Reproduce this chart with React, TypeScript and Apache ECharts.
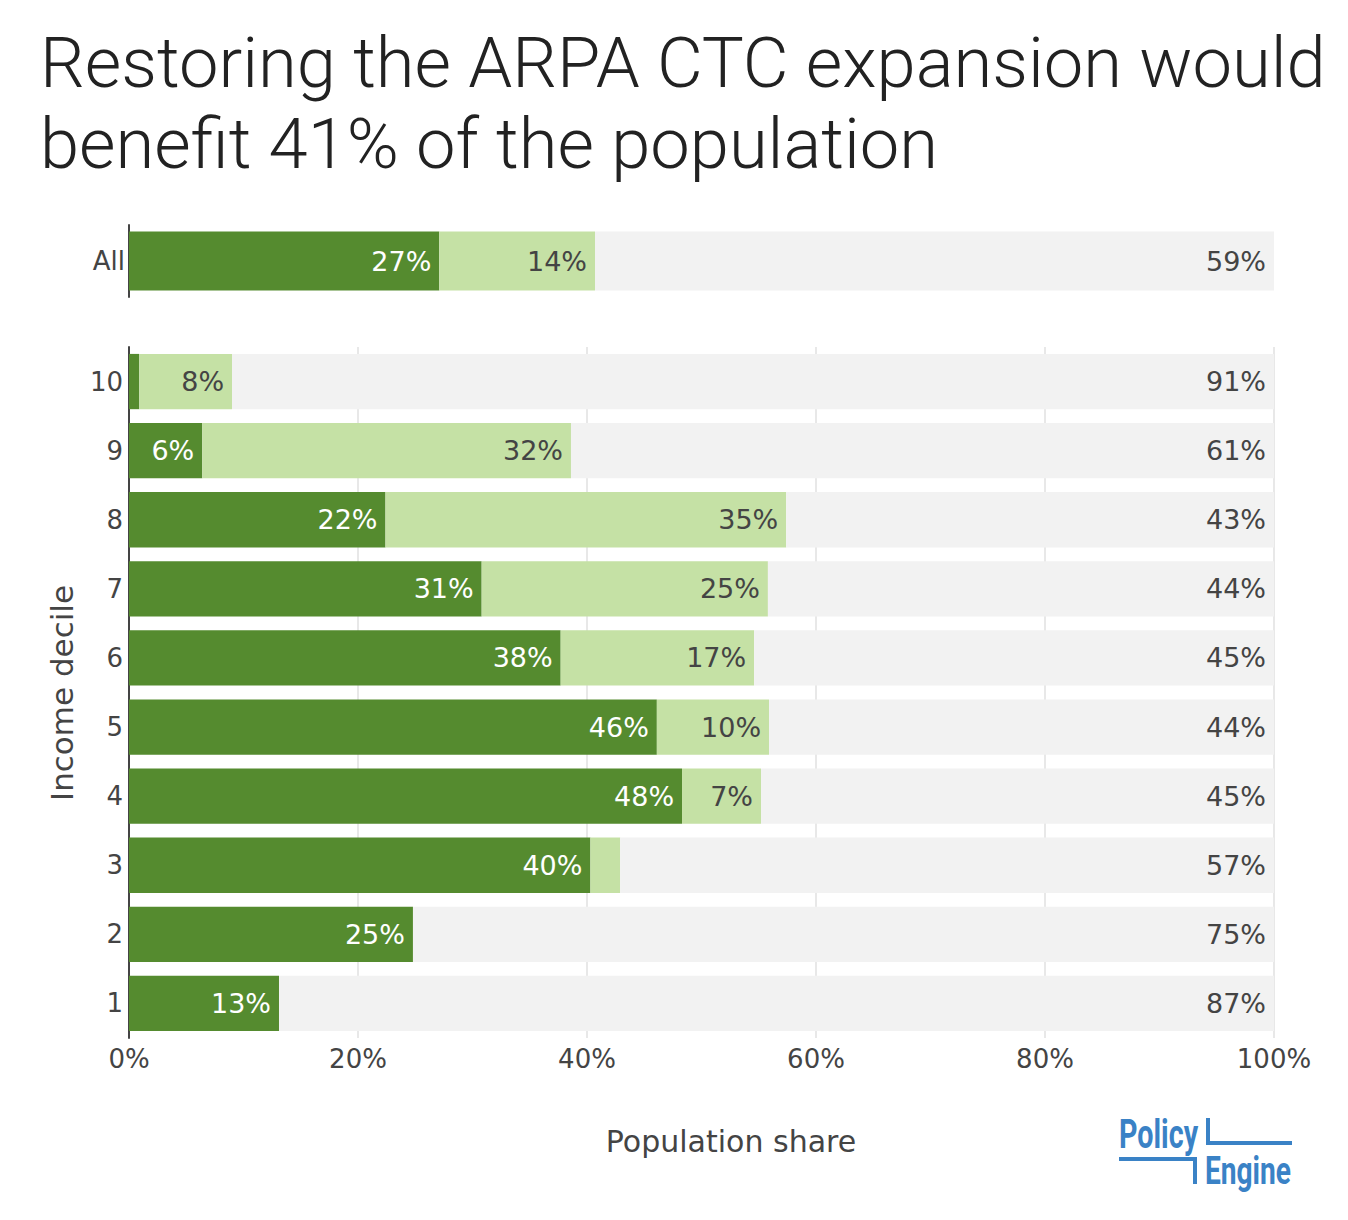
import React, { useEffect, useRef } from "react";
import * as echarts from "echarts";

const allCategory = ["All"];
const allGain = [27.1];
const allGainNew = [13.6];
const allNoChange = [59.3];

const deciles = ["1", "2", "3", "4", "5", "6", "7", "8", "9", "10"];
const decileGain = [13.1, 24.8, 40.3, 48.3, 46.1, 37.7, 30.8, 22.4, 6.4, 0.9];
const decileGainNew = [0, 0, 2.6, 6.9, 9.8, 16.9, 25.0, 35.0, 32.2, 8.1];
const decileNoChange = [86.9, 75.2, 57.1, 44.8, 44.1, 45.4, 44.2, 42.6, 61.4, 91.0];

const xTicks = [0, 20, 40, 60, 80, 100];

const DARK = "#558B2F";
const LIGHT = "#C5E1A5";
const GRAY = "#F2F2F2";
const TXT = "#444444";
const TICK_FONT = "DejaVu Sans";
const BLUE = "#3A82C6";

const labelFmt = (p: any) => (p.value < 3 ? "" : Math.round(p.value) + "%");

function makeSeries(axisIdx: number, data: number[], color: string, labelColor: string, stack: string) {
  return {
    type: "bar",
    xAxisIndex: axisIdx,
    yAxisIndex: axisIdx,
    stack,
    data,
    barCategoryGap: axisIdx === 0 ? "18%" : "20%",
    itemStyle: { color },
    emphasis: { disabled: true },
    label: {
      show: true,
      position: "insideRight",
      distance: 8,
      formatter: labelFmt,
      color: labelColor,
      fontFamily: TICK_FONT,
      fontSize: 27,
    },
  };
}

export default function App() {
  const ref = useRef<HTMLDivElement>(null);
  useEffect(() => {
    if (!ref.current) return;
    const chart = echarts.init(ref.current, undefined, { renderer: "svg" });
    const option: any = {
      animation: false,
      backgroundColor: "#ffffff",
      title: {
        text: "Restoring the ARPA CTC expansion would\nbenefit 41% of the population",
        left: 40,
        top: 22,
        padding: 0,
        textStyle: {
          fontFamily: "Roboto",
          fontWeight: 300,
          fontSize: 70.5,
          lineHeight: 81,
          color: "#222222",
        },
      },
      grid: [
        { left: 129, right: 74, top: 225, height: 72 },
        { left: 129, right: 74, top: 347, height: 691 },
      ],
      xAxis: [
        {
          gridIndex: 0,
          type: "value",
          min: 0,
          max: 100,
          interval: 20,
          axisLine: { show: false },
          axisTick: { show: false },
          axisLabel: { show: false },
          splitLine: { show: false },
        },
        {
          gridIndex: 1,
          type: "value",
          min: 0,
          max: 100,
          interval: 20,
          axisLine: { show: false },
          axisTick: { show: false },
          axisLabel: {
            show: true,
            margin: 8,
            fontFamily: TICK_FONT,
            fontSize: 26,
            color: TXT,
            formatter: (v: number) => (xTicks.includes(v) ? v + "%" : ""),
          },
          splitLine: { show: true, lineStyle: { color: "#E8E8E8", width: 2 } },
        },
      ],
      yAxis: [
        {
          gridIndex: 0,
          type: "category",
          data: allCategory,
          axisLine: { show: true, lineStyle: { color: TXT, width: 2 } },
          axisTick: { show: false },
          axisLabel: { margin: 4, fontFamily: TICK_FONT, fontSize: 26, color: TXT },
        },
        {
          gridIndex: 1,
          type: "category",
          data: deciles,
          axisLine: { show: true, lineStyle: { color: TXT, width: 2 } },
          axisTick: { show: false },
          axisLabel: { margin: 6, fontFamily: TICK_FONT, fontSize: 26, color: TXT },
        },
      ],
      series: [
        makeSeries(0, allGain, DARK, "#ffffff", "a"),
        makeSeries(0, allGainNew, LIGHT, TXT, "a"),
        makeSeries(0, allNoChange, GRAY, TXT, "a"),
        makeSeries(1, decileGain, DARK, "#ffffff", "b"),
        makeSeries(1, decileGainNew, LIGHT, TXT, "b"),
        makeSeries(1, decileNoChange, GRAY, TXT, "b"),
      ],
      graphic: [
        {
          type: "text",
          x: 62,
          y: 693,
          rotation: Math.PI / 2,
          style: {
            text: "Income decile",
            fontFamily: TICK_FONT,
            fontSize: 31,
            fill: TXT,
            align: "center",
            verticalAlign: "middle",
          },
        },
        {
          type: "text",
          x: 731,
          y: 1141,
          style: {
            text: "Population share",
            fontFamily: TICK_FONT,
            fontSize: 30,
            fill: TXT,
            align: "center",
            verticalAlign: "middle",
          },
        },
        {
          type: "group",
          children: [
            {
              type: "text",
              x: 1119,
              y: 1134,
              scaleX: 0.7,
              style: {
                text: "Policy",
                fontFamily: "Roboto",
                fontWeight: "bold",
                fontSize: 41,
                fill: BLUE,
                align: "left",
                verticalAlign: "middle",
              },
            },
            {
              type: "text",
              x: 1205,
              y: 1171,
              scaleX: 0.74,
              style: {
                text: "Engine",
                fontFamily: "Roboto",
                fontWeight: "bold",
                fontSize: 38,
                fill: BLUE,
                align: "left",
                verticalAlign: "middle",
              },
            },
            { type: "rect", shape: { x: 1206, y: 1118, width: 4, height: 27 }, style: { fill: BLUE } },
            { type: "rect", shape: { x: 1206, y: 1141, width: 86, height: 4 }, style: { fill: BLUE } },
            { type: "rect", shape: { x: 1119, y: 1157, width: 78, height: 4 }, style: { fill: BLUE } },
            { type: "rect", shape: { x: 1193, y: 1157, width: 4, height: 27 }, style: { fill: BLUE } },
          ],
        },
      ],
    };
    chart.setOption(option);
    return () => chart.dispose();
  }, []);
  return (
    <div
      ref={ref}
      style={{ position: "absolute", left: 0, top: 0, width: 1348, height: 1220 }}
    />
  );
}
